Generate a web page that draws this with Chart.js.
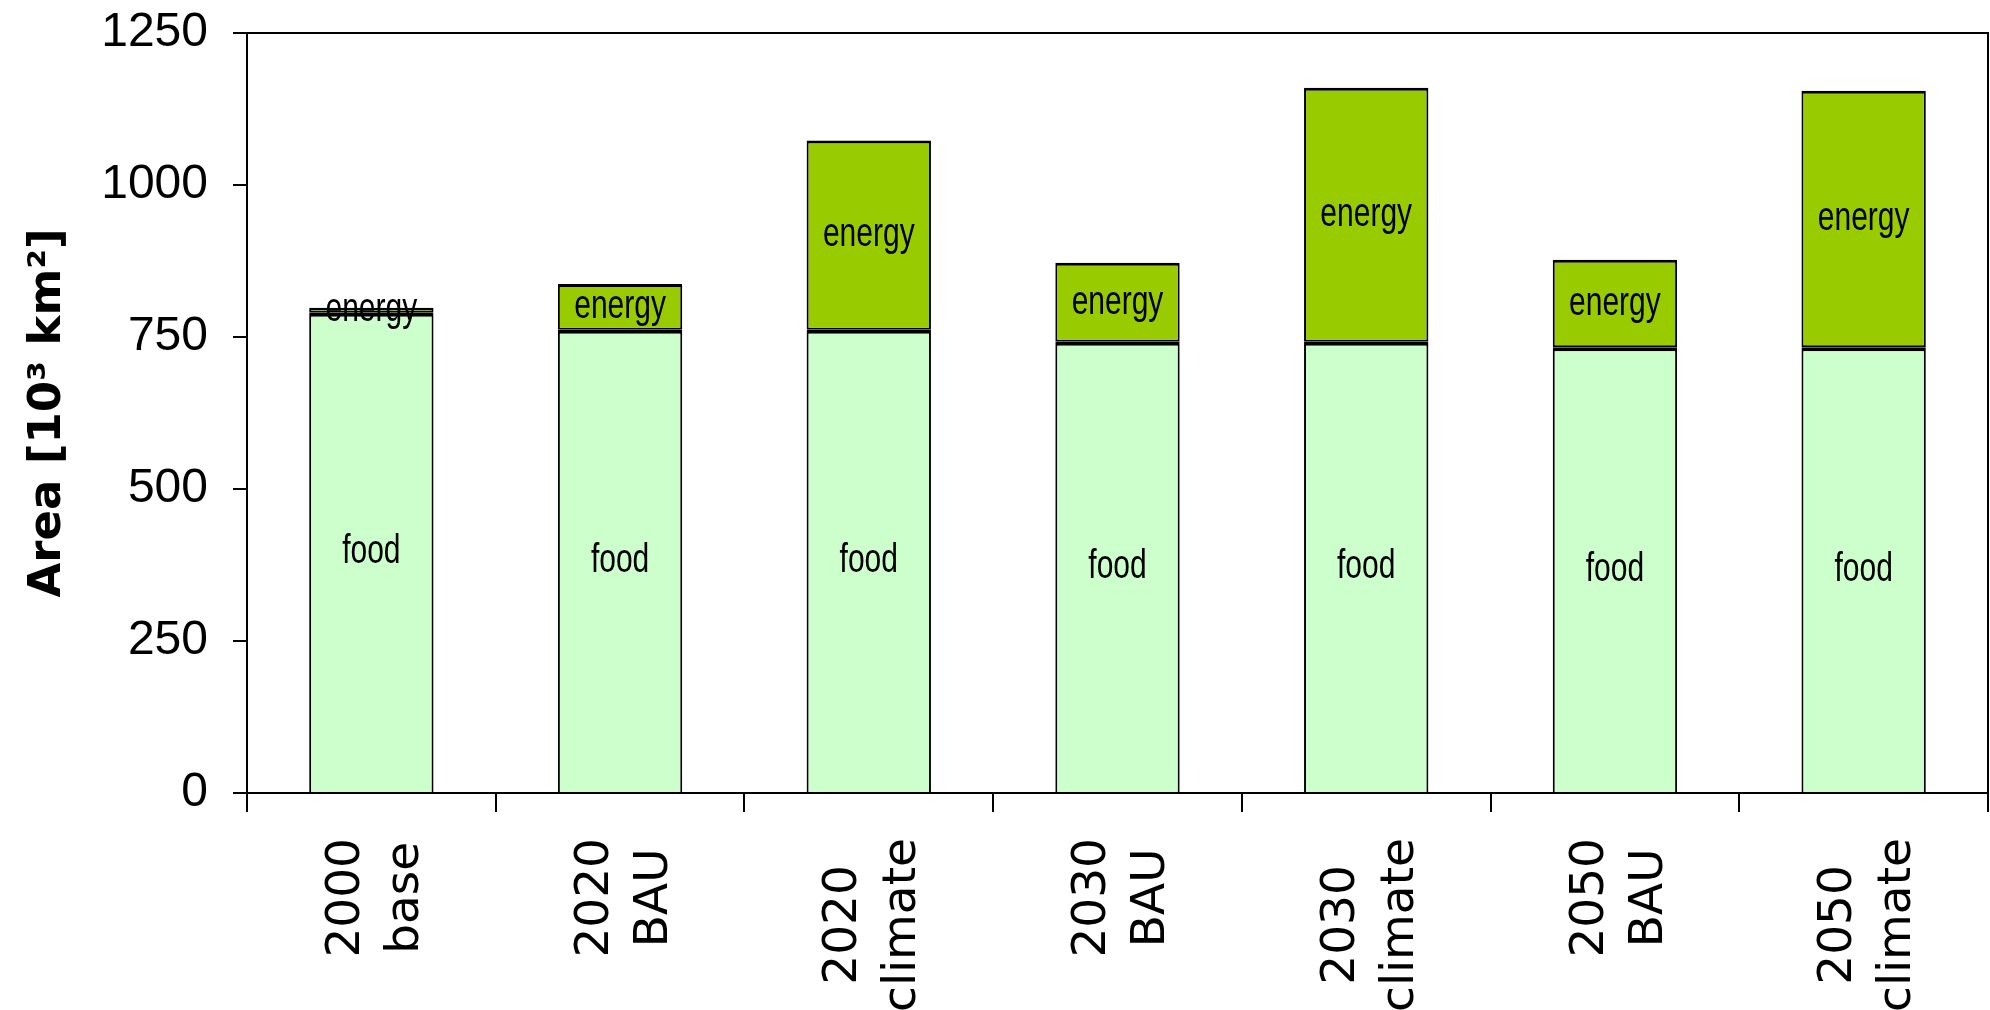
<!DOCTYPE html>
<html>
<head>
<meta charset="utf-8">
<script src="https://cdn.jsdelivr.net/npm/chart.js@4.4.0/dist/chart.umd.min.js"></script>
<style>
  html, body { margin: 0; padding: 0; background: #fff; }
  canvas { display: block; }
</style>
</head>
<body>
<canvas id="chart" width="1990" height="1010"></canvas>
<script>
// Scenario categories (two-line labels) and land area per use, 10^3 km²
const scenarios = [["2000", "base"], ["2020", "BAU"], ["2020", "climate"], ["2030", "BAU"], ["2030", "climate"], ["2050", "BAU"], ["2050", "climate"]];
const foodArea = [790, 762, 762, 742, 742, 733, 733];
const energyArea = [8, 75, 311, 130, 418, 144, 422];
const yTicks = [0, 250, 500, 750, 1000, 1250];
const yTitle = "Area [10³ km²]";

const FOOD_COLOR = "#CCFFCC";
const ENERGY_COLOR = "#99CC00";

// Writes each dataset's name in the middle of its bar segment (tall, narrow lettering)
const segmentLabels = {
  id: "segmentLabels",
  afterDatasetsDraw(chart) {
    const ctx = chart.ctx;
    const stretch = 1.35;
    ctx.save();
    ctx.font = '30px "Liberation Sans", Arial, sans-serif';
    ctx.fillStyle = "#000";
    ctx.textAlign = "center";
    ctx.textBaseline = "middle";
    chart.data.datasets.forEach((ds, i) => {
      chart.getDatasetMeta(i).data.forEach(bar => {
        const { x, y, base } = bar.getProps(["x", "y", "base"], true);
        ctx.save();
        ctx.translate(x, (y + base) / 2);
        ctx.scale(1, stretch);
        ctx.fillText(ds.label, 0, 0);
        ctx.restore();
      });
    });
    ctx.restore();
  }
};

// Plot frame drawn over the bars (closes the box on top and right)
const plotFrame = {
  id: "plotFrame",
  afterDatasetsDraw(chart) {
    const { ctx, chartArea: a } = chart;
    ctx.save();
    ctx.strokeStyle = "#000";
    ctx.lineWidth = 2;
    ctx.strokeRect(a.left, a.top, a.right - a.left, a.bottom - a.top);
    ctx.restore();
  }
};

// Vertical two-line category labels, lines centred on each other
const scenarioLabels = {
  id: "scenarioLabels",
  afterDraw(chart) {
    const xs = chart.scales.x, ctx = chart.ctx;
    const size = 47, gap = 59, cap = size * 0.73, top = xs.top + 45;
    ctx.save();
    ctx.font = size + 'px "DejaVu Sans", sans-serif';
    ctx.fillStyle = "#000";
    ctx.textAlign = "center";
    ctx.textBaseline = "alphabetic";
    scenarios.forEach((lines, i) => {
      const cx = xs.getPixelForValue(i);
      const longest = Math.max(...lines.map(l => ctx.measureText(l).width));
      const cy = top + longest / 2;
      lines.forEach((line, j) => {
        const bx = cx + (j - (lines.length - 1) / 2) * gap + cap / 2;
        ctx.save();
        ctx.translate(bx, cy);
        ctx.rotate(-Math.PI / 2);
        ctx.fillText(line, 0, 0);
        ctx.restore();
      });
    });
    ctx.restore();
  }
};

const sides = { left: 2, right: 2 };

new Chart(document.getElementById("chart"), {
  type: "bar",
  data: {
    labels: scenarios.map(s => s.join(" ")),
    datasets: [
      {
        label: "food",
        data: foodArea,
        backgroundColor: FOOD_COLOR,
        borderColor: "#000",
        borderWidth: { top: 4, bottom: 0, ...sides },
        borderSkipped: false,
        inflateAmount: 0,
        barPercentage: 0.5,
        categoryPercentage: 1.0
      },
      {
        label: "energy",
        data: energyArea,
        backgroundColor: ENERGY_COLOR,
        borderColor: "#000",
        borderWidth: { top: 3, bottom: 2, ...sides },
        borderSkipped: false,
        inflateAmount: 0,
        barPercentage: 0.5,
        categoryPercentage: 1.0
      }
    ]
  },
  options: {
    responsive: false,
    animation: false,
    devicePixelRatio: 1,
    layout: { padding: { top: 33, right: 2, left: 0, bottom: 0 } },
    plugins: {
      legend: { display: false },
      tooltip: { enabled: false }
    },
    scales: {
      x: {
        stacked: true,
        offset: true,
        grid: {
          offset: true,
          drawOnChartArea: false,
          drawTicks: true,
          tickLength: 19,
          color: "#000",
          lineWidth: 2
        },
        border: { display: true, color: "#000", width: 2 },
        ticks: { display: false },
        afterFit(scale) { scale.height = 217; }
      },
      y: {
        stacked: true,
        min: yTicks[0],
        max: yTicks[yTicks.length - 1],
        afterBuildTicks(scale) { scale.ticks = yTicks.map(v => ({ value: v })); },
        grid: {
          drawOnChartArea: false,
          drawTicks: true,
          tickLength: 14,
          color: "#000",
          lineWidth: 2
        },
        border: { display: true, color: "#000", width: 2 },
        ticks: {
          color: "#000",
          padding: 25,
          callback: v => String(v),
          font: { family: '"Liberation Sans", Arial, sans-serif', size: 48, lineHeight: 1.2 }
        },
        title: {
          display: true,
          text: yTitle,
          color: "#000",
          padding: { top: 21, bottom: 0 },
          font: { family: '"DejaVu Sans", sans-serif', size: 45, weight: "bold", lineHeight: 1.2 }
        },
        afterFit(scale) {
          scale.width = 247;
          scale.paddingTop = 0;
          scale.paddingBottom = 0;
        }
      }
    }
  },
  plugins: [segmentLabels, plotFrame, scenarioLabels]
});
</script>
</body>
</html>
